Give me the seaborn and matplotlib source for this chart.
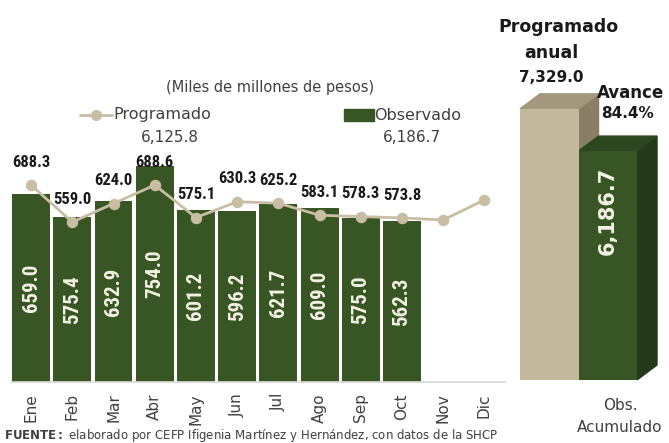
import numpy as np
import pandas as pd
import matplotlib
matplotlib.use("Agg")
import matplotlib.pyplot as plt
from matplotlib.patches import Polygon
from matplotlib import font_manager
import seaborn as sns

months = ["Ene", "Feb", "Mar", "Abr", "May", "Jun", "Jul", "Ago", "Sep", "Oct", "Nov", "Dic"]
observado = [659.0, 575.4, 632.9, 754.0, 601.2, 596.2, 621.7, 609.0, 575.0, 562.3, np.nan, np.nan]
programado = [688.3, 559.0, 624.0, 688.6, 575.1, 630.3, 625.2, 583.1, 578.3, 573.8, 566.5, 636.7]
prog_labels = ["688.3", "559.0", "624.0", "688.6", "575.1", "630.3", "625.2", "583.1", "578.3", "573.8", "", ""]
prog_total_text = "6,125.8"
obs_total_text = "6,186.7"
annual_labels = ["Programado\nanual", "Obs.\nAcumulado"]
annual_values = [7329.0, 6186.7]
avance_text = "84.4%"

sns.set_theme(style="white")
plt.rcParams["font.family"] = ["DejaVu Sans"]

avail = {f.name for f in font_manager.fontManager.ttflist}
NARROW = [f for f in ["Liberation Sans Narrow", "DejaVu Sans Condensed", "Roboto Condensed"] if f in avail]
if not NARROW:
    NARROW = ["Liberation Sans"]
NARROW = NARROW + ["DejaVu Sans"]

W, H = 669, 443
fig = plt.figure(figsize=(W / 100, H / 100), dpi=100)

def fx(px):
    return px / W

def fy(py):
    return 1 - py / H

GREEN = "#375623"
TAN = "#c4b99c"
LINE = "#c9bea3"

# ---- main monthly chart ----
ax = fig.add_axes([fx(10.5), fy(382), fx(505) - fx(10.5), fy(140) - fy(382)])
df = pd.DataFrame({"mes": months, "obs": observado})
sns.barplot(data=df, x="mes", y="obs", order=months, color=GREEN, saturation=1,
            width=0.92, ax=ax, edgecolor="none")
sns.lineplot(x=np.arange(len(months)), y=programado, ax=ax, color=LINE, lw=2,
             marker="o", markersize=7.5, markeredgecolor=LINE, zorder=5)
ax.set_xlim(-0.5, 11.5)
ax.set_ylim(0, 242 / 0.286)
ax.set_xlabel("")
ax.set_ylabel("")
ax.set_yticks([])
for s in ["top", "right", "left"]:
    ax.spines[s].set_visible(False)
ax.spines["bottom"].set_color("#d9d9d9")
ax.tick_params(axis="x", length=0, pad=8)
ax.set_xticks(range(len(months)))
ax.set_xticklabels(months, rotation=90, fontsize=11, color="#404040")

for i, v in enumerate(observado):
    if not np.isnan(v):
        ax.text(i, v / 2, f"{v:.1f}", rotation=90, ha="center", va="center",
                color="#f4f2e6", fontsize=15, fontweight="bold", family=NARROW)
for i, (v, lab) in enumerate(zip(programado, prog_labels)):
    if lab:
        ax.annotate(lab, (i, v), xytext=(0, 11), textcoords="offset points",
                    ha="center", va="bottom", fontsize=12, fontweight="bold",
                    color="#1a1a1a", family=NARROW)

# header texts
fig.text(fx(270), fy(88), "(Miles de millones de pesos)", ha="center", va="center",
         fontsize=10.5, color="#404040")
fig.add_artist(plt.Line2D([fx(80), fx(112)], [fy(115), fy(115)], color=LINE, lw=2))
fig.add_artist(plt.Line2D([fx(96)], [fy(115)], color=LINE, marker="o", markersize=7, lw=0))
fig.text(fx(113), fy(115), "Programado", ha="left", va="center", fontsize=11.5, color="#404040")
fig.text(fx(170), fy(138), prog_total_text, ha="center", va="center", fontsize=11, color="#404040")
fig.add_artist(plt.Rectangle((fx(344), fy(121)), fx(30), fy(109) - fy(121), color=GREEN))
fig.text(fx(374), fy(115), "Observado", ha="left", va="center", fontsize=11.5, color="#404040")
fig.text(fx(412), fy(138), obs_total_text, ha="center", va="center", fontsize=11, color="#404040")

# ---- right 3D-style annual bars ----
ax2 = fig.add_axes([fx(510), fy(380), fx(669) - fx(510), fy(0) - fy(380)])
pxu = 58.5
ymax = 380 / 0.0370
ax2.set_xlim(-10 / pxu, (669 - 520) / pxu)
ax2.set_ylim(0, ymax)
ax2.axis("off")
xs = [0.5, 1.5]
fronts = [TAN, GREEN]
sides = ["#8a7e66", "#23391a"]
tops = ["#a3977c", "#2c4720"]
ax2.bar(xs, annual_values, width=1.0, color=fronts, edgecolor="none", zorder=3)
dx = 20 / pxu
dy = 15 / 0.0370
for x, v, sc, tc in zip(xs, annual_values, sides, tops):
    l, r = x - 0.5, x + 0.5
    ax2.add_patch(Polygon([(r, 0), (r + dx, dy), (r + dx, v + dy), (r, v)],
                          closed=True, color=sc, zorder=2))
    ax2.add_patch(Polygon([(l, v), (l + dx, v + dy), (r + dx, v + dy), (r, v)],
                          closed=True, color=tc, zorder=2))
ax2.text(xs[1], annual_values[1] - 1620, "6,186.7", rotation=90, ha="center", va="center",
         color="#f4f2e6", fontsize=15, fontweight="bold")

fig.text(fx(558), fy(27), "Programado", ha="center", va="center", fontsize=12.5,
         fontweight="bold", color="#1a1a1a")
fig.text(fx(551), fy(53), "anual", ha="center", va="center", fontsize=12.5,
         fontweight="bold", color="#1a1a1a")
fig.text(fx(551), fy(77), "7,329.0", ha="center", va="center", fontsize=11,
         fontweight="bold", color="#1a1a1a")
fig.text(fx(631), fy(93), "Avance", ha="center", va="center", fontsize=12,
         fontweight="bold", color="#1a1a1a")
fig.text(fx(628), fy(114), avance_text, ha="center", va="center", fontsize=11,
         fontweight="bold", color="#1a1a1a")
fig.text(fx(620), fy(405), "Obs.", ha="center", va="center", fontsize=11, color="#404040")
fig.text(fx(620), fy(428), "Acumulado", ha="center", va="center", fontsize=11, color="#404040")

# source
fig.text(fx(4), fy(435), r"$\bf{FUENTE:}$ elaborado por CEFP Ifigenia Martínez y Hernández, con datos de la SHCP",
         ha="left", va="center", fontsize=8.5, color="#404040")

fig.savefig("out.png", dpi=100)
